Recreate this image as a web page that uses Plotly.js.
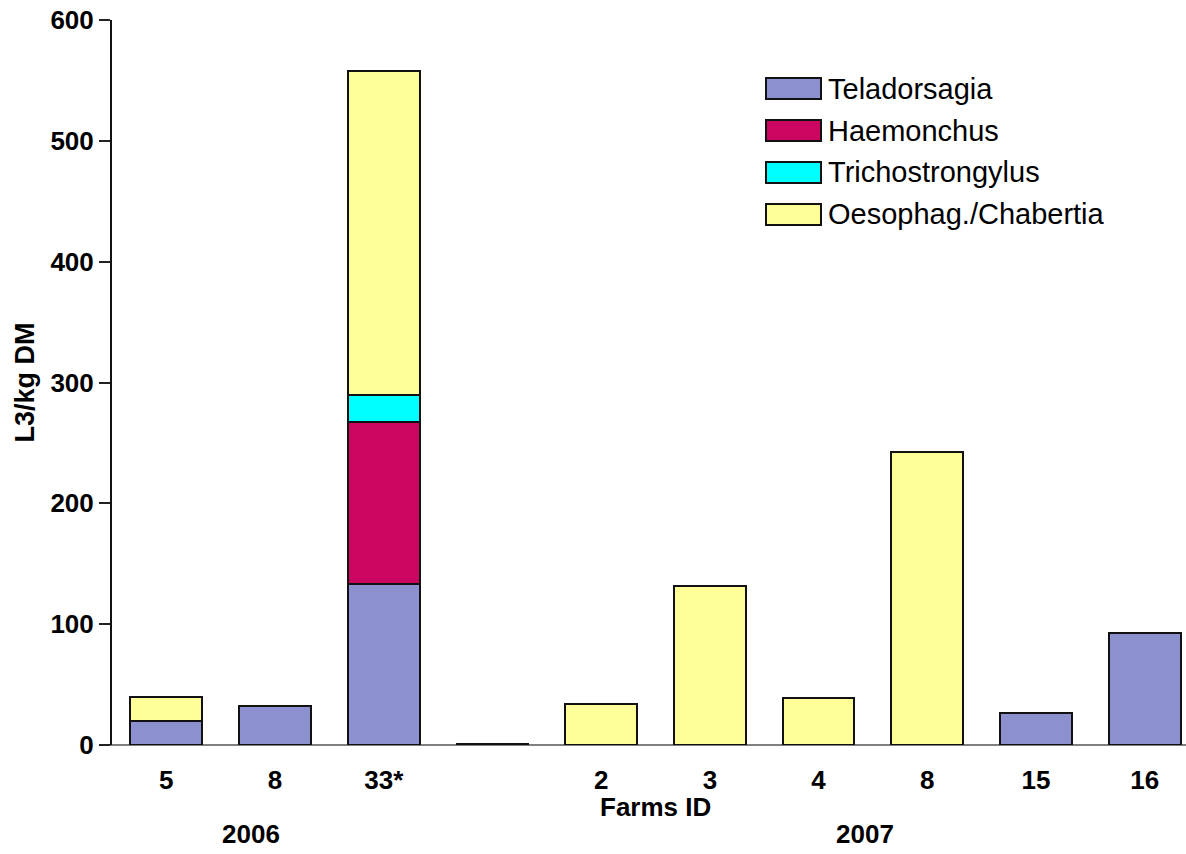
<!DOCTYPE html>
<html>
<head>
<meta charset="utf-8">
<script src="https://cdn.plot.ly/plotly-3.0.1.min.js"></script>
<style>
  html, body { margin: 0; padding: 0; background: #fff; }
  #chart { width: 1186px; height: 854px; }
</style>
</head>
<body>
<div id="chart"></div>
<script>
// ---- data ----
const positions = [0, 1, 2, 3, 4, 5, 6, 7, 8, 9];
const tickLabels = ['5', '8', '33*', '', '2', '3', '4', '8', '15', '16'];
const seriesNames = ['Teladorsagia', 'Haemonchus', 'Trichostrongylus', 'Oesophag./Chabertia'];
const seriesColors = ['#8C90CE', '#CC0660', '#00FFFF', '#FFFF99'];
const teladorsagia = [20, 32, 133.5, 0.5, 0, 0, 0, 0, 26.2, 92.9];
const haemonchus   = [0, 0, 134, 0, 0, 0, 0, 0, 0, 0];
const trichostrongylus = [0, 0, 22.4, 0, 0, 0, 0, 0, 0, 0];
const oesophagChabertia = [20, 0, 268, 0, 33.7, 131.8, 38.9, 242.7, 0, 0];
const yearLabels = ['2006', '2007'];

const seriesValues = [teladorsagia, haemonchus, trichostrongylus, oesophagChabertia];
const FONT = 'Liberation Sans, Arial, Helvetica, sans-serif';

const traces = seriesValues.map((vals, i) => ({
  type: 'bar',
  name: seriesNames[i],
  x: positions,
  y: vals,
  width: 0.66,
  marker: { color: seriesColors[i], line: { color: '#111', width: 2 } },
  hoverinfo: 'name+y',
  showlegend: false
}));

// plot area in pixels: left 112, right 1186, top 20, bottom 745
const L = 112, R = 1186, T = 20, B = 745;
const px = v => (v - L) / (R - L);
const py = v => (B - v) / (B - T);

const shapes = [];
const annotations = [];
// manual legend
seriesNames.forEach((n, i) => {
  const top = 78 + 42 * i, bot = 99 + 42 * i;
  shapes.push({
    type: 'rect', xref: 'paper', yref: 'paper',
    x0: px(766), x1: px(821), y0: py(bot), y1: py(top),
    fillcolor: seriesColors[i], line: { color: '#111', width: 2 }
  });
  annotations.push({
    xref: 'paper', yref: 'paper', x: px(826), y: py((top + bot) / 2),
    xanchor: 'left', yanchor: 'middle', showarrow: false,
    text: n, font: { family: FONT, size: 29, color: '#000' }
  });
});
// x-axis line extension left of y axis
shapes.push({
  type: 'line', xref: 'paper', yref: 'paper',
  x0: px(100), x1: 1, y0: 0, y1: 0,
  line: { color: '#7f7f7f', width: 2 }, layer: 'below'
});
// Farms ID title
annotations.push({
  xref: 'paper', yref: 'paper', x: px(655), y: py(807),
  xanchor: 'center', yanchor: 'middle', showarrow: false,
  text: 'Farms ID', font: { family: FONT, size: 26, color: '#000', weight: 'bold' }
});
// year labels
[[251, yearLabels[0]], [865, yearLabels[1]]].forEach(([x, t]) => {
  annotations.push({
    xref: 'paper', yref: 'paper', x: px(x), y: py(834),
    xanchor: 'center', yanchor: 'middle', showarrow: false,
    text: t, font: { family: FONT, size: 26, color: '#000', weight: 'bold' }
  });
});

const layout = {
  width: 1186, height: 854,
  margin: { l: L, r: 1186 - R, t: T, b: 854 - B, pad: 0 },
  paper_bgcolor: '#fff', plot_bgcolor: '#fff',
  barmode: 'stack',
  showlegend: false,
  font: { family: FONT, color: '#000' },
  xaxis: {
    range: [-0.5, 9.38],
    tickmode: 'array', tickvals: positions, ticktext: tickLabels,
    ticks: 'outside', ticklen: 12, tickcolor: 'rgba(0,0,0,0)',
    tickfont: { family: FONT, size: 26, color: '#000', weight: 'bold' },
    showline: false, showgrid: false, zeroline: false, fixedrange: true
  },
  yaxis: {
    range: [0, 600], dtick: 100, tick0: 0,
    ticks: 'outside', ticklen: 11, tickwidth: 2, tickcolor: '#222',
    tickfont: { family: FONT, size: 26, color: '#000', weight: 'bold' },
    showline: true, linecolor: '#111', linewidth: 2,
    showgrid: false, zeroline: false, fixedrange: true,
    title: { text: 'L3/kg DM', standoff: 8, font: { family: FONT, size: 27, color: '#000', weight: 'bold' } }
  },
  shapes: shapes,
  annotations: annotations
};

Plotly.newPlot('chart', traces, layout, { displayModeBar: false, staticPlot: true });
</script>
</body>
</html>
